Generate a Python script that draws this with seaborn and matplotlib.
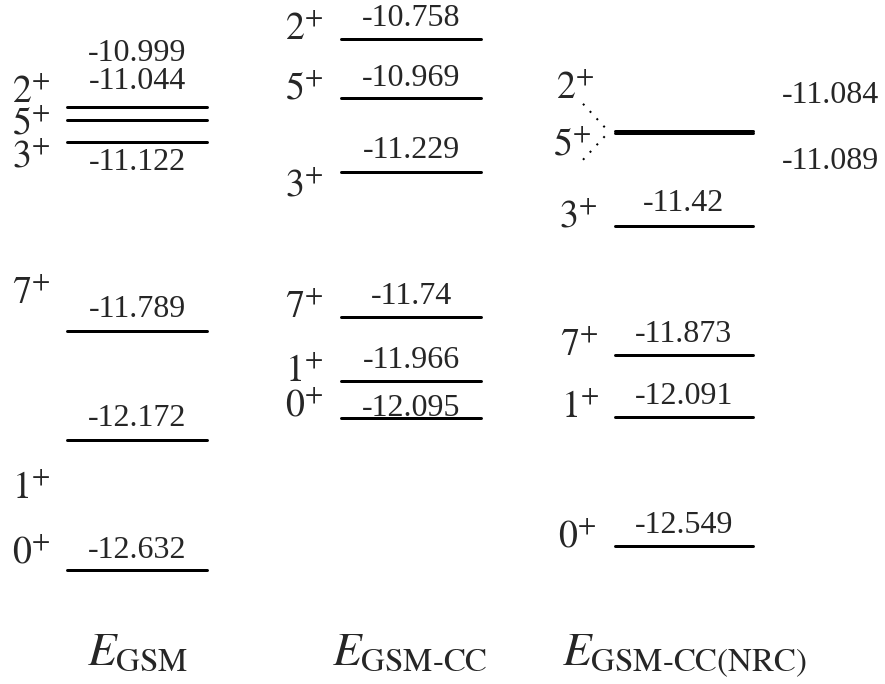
import matplotlib
matplotlib.use("Agg")
import matplotlib.pyplot as plt
import seaborn as sns
import pandas as pd

# ---- level energies (MeV) for the three calculations ----
spins = ["2", "5", "3", "7", "1", "0"]
e_gsm = [-10.999, -11.044, -11.122, -11.789, -12.172, -12.632]
e_gsm_cc = [-10.758, -10.969, -11.229, -11.74, -11.966, -12.095]
e_gsm_cc_nrc = [-11.084, -11.089, -11.42, -11.873, -12.091, -12.549]
columns = [r"$E_{\mathrm{GSM}}$", r"$E_{\mathrm{GSM\text{-}CC}}$", r"$E_{\mathrm{GSM\text{-}CC(NRC)}}$"]

# ---- layout (pixels; dpi=72 so 1 px == 1 pt) ----
W, H = 885, 684
col_x = [(67, 207), (341, 481), (615, 753)]
spin_x = [12, 285, 558]
# vertical offsets (px, up positive) of value-label baselines from their level
value_dy = [[46, 31, -28, 14, 14, 12],
            [13, 12, 14, 13, 13, 2],
            [28, -36, 15, 13, 13, 13]]
# spin-label baselines relative to their level
spin_dy = [[5, -14, -25, 28, -58, 7],
           [0, 0, -23, 0, 0, 2],
           [33, -22, 0, 0, 0, 0]]
spin_xshift = [[0, 0, 0, 0, 0, 0],
               [0, 0, 0, 0, 0, 0],
               [-2, -5, 1, 2, 3, 0]]
title_x = [87, 332, 562]

sns.set_theme(style="white")
plt.rcParams["font.family"] = ["Liberation Serif", "DejaVu Serif"]
plt.rcParams["mathtext.fontset"] = "stix"

fig = plt.figure(figsize=(W / 72, H / 72), dpi=72)
ax = fig.add_axes([0, 0, 1, 1])

# energy <-> pixel mapping: level -10.999 sits at pixel row 107, 283.5 px per MeV
ppm = 283.5
ytop = -10.999 + 107 / ppm
ybot = -10.999 - (H - 107) / ppm
ax.set_xlim(0, W)
ax.set_ylim(ybot, ytop)
ax.axis("off")

energies = [e_gsm, e_gsm_cc, e_gsm_cc_nrc]
rows = []
for c, (levels, (x0, x1)) in enumerate(zip(energies, col_x)):
    for i, e in enumerate(levels):
        rows.append({"x": x0, "E": e, "level": f"{c}-{i}"})
        rows.append({"x": x1, "E": e, "level": f"{c}-{i}"})
df = pd.DataFrame(rows)

sns.lineplot(data=df, x="x", y="E", units="level", estimator=None,
             color="black", lw=3, ax=ax, legend=False)

fs_val = 32
fs_spin = 38
for c, levels in enumerate(energies):
    x0, x1 = col_x[c]
    for i, e in enumerate(levels):
        # value label
        if c == 2 and i < 2:
            ax.annotate(f"{e:g}", (782, e), xytext=(0, value_dy[c][i]),
                        textcoords="offset points", ha="left", va="baseline",
                        fontsize=fs_val)
        else:
            ax.annotate(f"{e:g}", ((x0 + x1) / 2, e), xytext=(0, value_dy[c][i]),
                        textcoords="offset points", ha="center", va="baseline",
                        fontsize=fs_val)
        # spin-parity label
        ax.annotate(rf"${spins[i]}^{{+}}$", (spin_x[c] + spin_xshift[c][i], e),
                    xytext=(0, spin_dy[c][i]), textcoords="offset points",
                    ha="left", va="baseline", fontsize=fs_spin)

# dotted connectors from the 2+ / 5+ labels to the merged NRC level
e_mid = (e_gsm_cc_nrc[0] + e_gsm_cc_nrc[1]) / 2
ax.plot([583, 608], [e_mid + 28 / ppm, e_mid + 1 / ppm], color="black",
        ls=(0, (1, 4)), lw=2)
ax.plot([583, 608], [e_mid - 28 / ppm, e_mid - 1 / ppm], color="black",
        ls=(0, (1, 4)), lw=2)

# column titles
e_title = -10.999 - (665 - 107) / ppm
for c, t in enumerate(columns):
    ax.text(title_x[c], e_title, t, ha="left", va="baseline", fontsize=47)

fig.savefig("out.png", dpi=72)
